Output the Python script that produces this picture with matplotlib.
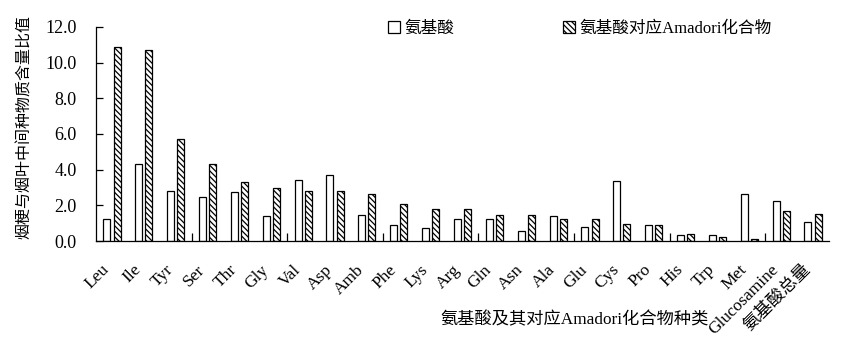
import matplotlib
matplotlib.use("Agg")
import matplotlib.pyplot as plt
import matplotlib.transforms as mtransforms
import numpy as np

plt.rcParams['font.family'] = ['Liberation Serif', 'Noto Sans CJK SC']
plt.rcParams['hatch.linewidth'] = 0.9

categories = ["Leu", "Ile", "Tyr", "Ser", "Thr", "Gly", "Val", "Asp", "Amb", "Phe",
              "Lys", "Arg", "Gln", "Asn", "Ala", "Glu", "Cys", "Pro", "His", "Trp",
              "Met", "Glucosamine", "氨基酸总量"]
amino_acid = [1.22, 4.30, 2.79, 2.45, 2.73, 1.39, 3.40, 3.68, 1.44, 0.88,
              0.71, 1.22, 1.22, 0.54, 1.39, 0.77, 3.35, 0.88, 0.32, 0.32,
              2.62, 2.23, 1.05]
amadori = [10.86, 10.69, 5.70, 4.30, 3.29, 2.96, 2.79, 2.79, 2.62, 2.06,
           1.78, 1.78, 1.44, 1.44, 1.22, 1.22, 0.94, 0.88, 0.37, 0.21,
           0.10, 1.67, 1.50]
series_names = ["氨基酸", "氨基酸对应Amadori化合物"]
y_ticks = [0, 2, 4, 6, 8, 10, 12]

fig = plt.figure(figsize=(8.55, 3.53), dpi=100)
ax = fig.add_axes([96/855, 1-241/353, (829-96)/855, (241-27)/353])

x = np.arange(len(categories))
w = 0.22
off = 0.16
ax.bar(x - off, amino_acid, w, color='white', edgecolor='black', linewidth=0.9,
       label=series_names[0])
ax.bar(x + off, amadori, w, color='white', edgecolor='black', linewidth=0.9,
       hatch='\\\\\\\\\\\\', label=series_names[1])

ax.set_xlim(-0.5, len(categories) - 0.5)
ax.set_ylim(0, 12)
ax.set_yticks(y_ticks)
ax.set_yticklabels([f"{v:.1f}" for v in y_ticks], fontsize=13)
ax.tick_params(axis='y', direction='in', length=5, width=0.9, pad=14)

ax.set_xticks(x)
ax.set_xticklabels(categories, rotation=45, ha='right', va='center',
                   rotation_mode='anchor', fontsize=12.5)
ax.tick_params(axis='x', length=0, pad=19)
shift = mtransforms.ScaledTranslation(-5/100, 0, fig.dpi_scale_trans)
for lab in ax.get_xticklabels():
    lab.set_transform(lab.get_transform() + shift)
ax.set_xticks(np.arange(2.5, len(categories) - 1, 3), minor=True)
ax.tick_params(axis='x', which='minor', direction='in', length=6, width=0.9)

for s in ['top', 'right']:
    ax.spines[s].set_visible(False)
for s in ['left', 'bottom']:
    ax.spines[s].set_linewidth(0.9)

ax.set_ylabel("烟梗与烟叶中间种物质含量比值", fontsize=11.5)
ax.yaxis.set_label_coords((33-96)/733, (241-127)/214)
fig.text(575/855, 1-320/353, "氨基酸及其对应Amadori化合物种类", fontsize=12.4,
         ha='center', va='center')

leg = ax.legend(loc='center', bbox_to_anchor=(580/855, 1-29/353),
                bbox_transform=fig.transFigure, ncol=2, frameon=False,
                fontsize=12, handlelength=0.7, handleheight=0.7,
                handletextpad=0.3, columnspacing=6.5)

fig.savefig("out.png", dpi=100)
